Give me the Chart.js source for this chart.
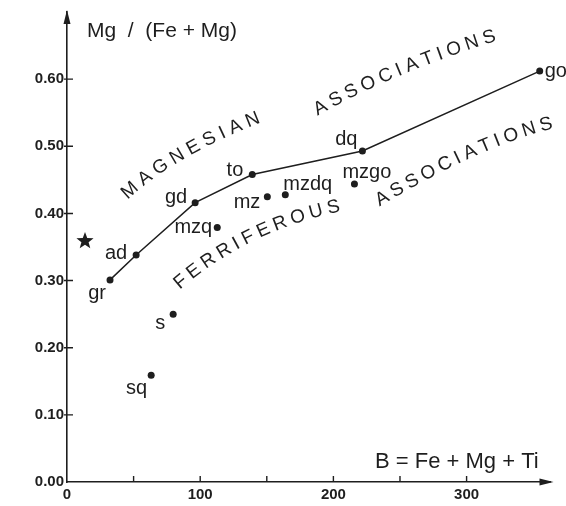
<!DOCTYPE html>
<html>
<head>
<meta charset="utf-8">
<script src="https://cdn.jsdelivr.net/npm/chart.js@4.4.0/dist/chart.umd.min.js"></script>
<style>
html, body { margin: 0; padding: 0; background: #fff; }
</style>
</head>
<body>
<canvas id="chart" width="566" height="506"></canvas>
<script>
// curve through the main associations
const trendNames = ['gr', 'ad', 'gd', 'to', 'dq', 'go'];
const trendB = [32.3, 51.9, 96.2, 139.1, 221.8, 354.9];
const trendRatio = [0.301, 0.338, 0.416, 0.458, 0.493, 0.612];

// other associations (not on the line)
const otherNames = ['mzq', 'mz', 'mzdq', 'mzgo', 's', 'sq'];
const otherB = [112.8, 150.4, 163.9, 215.8, 79.7, 63.2];
const otherRatio = [0.379, 0.425, 0.428, 0.444, 0.250, 0.159];

// star
const starB = [13.5];
const starRatio = [0.359];

const xTickLabels = ['0', '100', '200', '300'];
const yTickLabels = ['0.00', '0.10', '0.20', '0.30', '0.40', '0.50', '0.60'];

const INK = '#1e1e1e';
const FONT = '"Liberation Sans", Arial, Helvetica, sans-serif';

// where each point label sits, relative to its dot (pixels)
const labelPlace = {
  gr:   { align: 'center', dx: -13, dy: 19 },
  ad:   { align: 'right',  dx: -9,  dy: 4 },
  gd:   { align: 'right',  dx: -8,  dy: 0 },
  to:   { align: 'right',  dx: -9,  dy: 2 },
  dq:   { align: 'right',  dx: -5,  dy: -6 },
  go:   { align: 'left',   dx: 5,   dy: 6 },
  mzq:  { align: 'right',  dx: -5,  dy: 5 },
  mz:   { align: 'right',  dx: -7,  dy: 11 },
  mzdq: { align: 'left',   dx: -2,  dy: -5 },
  mzgo: { align: 'left',   dx: -12, dy: -6 },
  s:    { align: 'right',  dx: -8,  dy: 15 },
  sq:   { align: 'right',  dx: -4,  dy: 19 }
};

// curved field names: start, control, end (data units)
const fieldTexts = [
  { text: 'MAGNESIAN',    p0: [47.2, 0.434],  c: [79.4, 0.491],  p2: [139.3, 0.539] },
  { text: 'ASSOCIATIONS', p0: [190.3, 0.557], c: [242.7, 0.615], p2: [316.9, 0.662] },
  { text: 'FERRIFEROUS',  p0: [85.4, 0.298],  c: [134.1, 0.379], p2: [200.0, 0.409] },
  { text: 'ASSOCIATIONS', p0: [236.7, 0.422], c: [306.4, 0.504], p2: [359.6, 0.532] }
];

function makeStar(r) {
  const c = document.createElement('canvas');
  c.width = c.height = r * 2 + 2;
  const g = c.getContext('2d');
  g.fillStyle = INK;
  g.beginPath();
  for (let i = 0; i < 10; i++) {
    const rad = i % 2 === 0 ? r : r * 0.42;
    const a = -Math.PI / 2 + i * Math.PI / 5;
    const px = r + 1 + rad * Math.cos(a), py = r + 1 + rad * Math.sin(a);
    if (i === 0) g.moveTo(px, py); else g.lineTo(px, py);
  }
  g.closePath();
  g.fill();
  return c;
}

function drawCurved(ctx, item, xs, ys) {
  const P = p => [xs.getPixelForValue(p[0]), ys.getPixelForValue(p[1])];
  const a = P(item.p0), c = P(item.c), b = P(item.p2);
  const pts = [];
  for (let i = 0; i <= 200; i++) {
    const t = i / 200, u = 1 - t;
    pts.push([u * u * a[0] + 2 * u * t * c[0] + t * t * b[0],
              u * u * a[1] + 2 * u * t * c[1] + t * t * b[1]]);
  }
  const cum = [0];
  for (let i = 1; i < pts.length; i++) {
    cum.push(cum[i - 1] + Math.hypot(pts[i][0] - pts[i - 1][0], pts[i][1] - pts[i - 1][1]));
  }
  const L = cum[cum.length - 1];
  const letters = item.text.split('');
  const w = letters.map(ch => ctx.measureText(ch).width);
  let pairs = 0;
  for (let i = 1; i < letters.length; i++) pairs += (w[i - 1] + w[i]) / 2;
  const gap = (L - pairs) / (letters.length - 1);
  let s = 0;
  letters.forEach((ch, i) => {
    if (i > 0) s += (w[i - 1] + w[i]) / 2 + gap;
    let k = 1;
    while (k < cum.length - 1 && cum[k] < s) k++;
    const f = (s - cum[k - 1]) / ((cum[k] - cum[k - 1]) || 1);
    const x = pts[k - 1][0] + f * (pts[k][0] - pts[k - 1][0]);
    const y = pts[k - 1][1] + f * (pts[k][1] - pts[k - 1][1]);
    const ang = Math.atan2(pts[k][1] - pts[k - 1][1], pts[k][0] - pts[k - 1][0]);
    ctx.save();
    ctx.translate(x, y);
    ctx.rotate(ang);
    ctx.fillText(ch, 0, 0);
    ctx.restore();
  });
}

const decorations = {
  id: 'decorations',
  afterDraw(chart) {
    const ctx = chart.ctx;
    const xs = chart.scales.x, ys = chart.scales.y;
    const x0 = xs.getPixelForValue(0), y0 = ys.getPixelForValue(0);
    const top = chart.chartArea.top, right = chart.chartArea.right;
    ctx.save();
    ctx.fillStyle = INK;
    ctx.strokeStyle = INK;
    ctx.lineWidth = 1.4;

    // arrows at the axis ends
    ctx.beginPath();
    ctx.moveTo(x0, top - 2); ctx.lineTo(x0 - 3.5, top + 12); ctx.lineTo(x0 + 3.5, top + 12);
    ctx.closePath(); ctx.fill();
    ctx.beginPath();
    ctx.moveTo(right + 3, y0); ctx.lineTo(right - 11, y0 - 3.5); ctx.lineTo(right - 11, y0 + 3.5);
    ctx.closePath(); ctx.fill();

    // tick marks
    ctx.beginPath();
    for (let v = 50; v <= 300; v += 50) {
      const px = xs.getPixelForValue(v);
      ctx.moveTo(px, y0); ctx.lineTo(px, y0 - 6);
    }
    for (let v = 0.1; v < 0.65; v += 0.1) {
      const py = ys.getPixelForValue(v);
      ctx.moveTo(x0 - 3, py); ctx.lineTo(x0 + 6, py);
    }
    ctx.stroke();

    // axis titles
    ctx.textBaseline = 'alphabetic';
    ctx.textAlign = 'left';
    ctx.font = '21px ' + FONT;
    ctx.fillText('Mg  /  (Fe + Mg)', x0 + 20, 37);
    ctx.font = '22px ' + FONT;
    ctx.fillText('B = Fe + Mg + Ti', 375, 468);

    // point labels
    ctx.font = '20px ' + FONT;
    const sets = [[0, trendNames], [1, otherNames]];
    sets.forEach(([di, names]) => {
      chart.getDatasetMeta(di).data.forEach((el, i) => {
        const lp = labelPlace[names[i]];
        ctx.textAlign = lp.align;
        ctx.fillText(names[i], el.x + lp.dx, el.y + lp.dy);
      });
    });

    // curved field names
    ctx.font = '19px ' + FONT;
    ctx.textAlign = 'center';
    ctx.textBaseline = 'middle';
    fieldTexts.forEach(t => drawCurved(ctx, t, xs, ys));
    ctx.restore();
  }
};

const canvas = document.getElementById('chart');
new Chart(canvas, {
  type: 'scatter',
  data: {
    datasets: [
      {
        label: 'trend',
        data: trendB.map((b, i) => ({ x: b, y: trendRatio[i] })),
        showLine: true,
        borderColor: INK,
        borderWidth: 1.5,
        backgroundColor: INK,
        pointRadius: 3.5,
        pointBorderWidth: 0,
        tension: 0
      },
      {
        label: 'others',
        data: otherB.map((b, i) => ({ x: b, y: otherRatio[i] })),
        backgroundColor: INK,
        pointRadius: 3.5,
        pointBorderWidth: 0
      },
      {
        label: 'star',
        data: starB.map((b, i) => ({ x: b, y: starRatio[i] })),
        pointStyle: makeStar(9),
        pointRadius: 9
      }
    ]
  },
  options: {
    responsive: false,
    animation: false,
    layout: { padding: { top: 9.5, right: 15.5, left: 0, bottom: 0 } },
    plugins: {
      legend: { display: false },
      tooltip: { enabled: false }
    },
    scales: {
      x: {
        type: 'linear',
        min: 0,
        max: 363,
        grid: { display: false, drawTicks: false },
        border: { display: true, color: INK, width: 1.6 },
        ticks: {
          stepSize: 50,
          padding: 4,
          color: INK,
          font: { family: FONT, size: 15, weight: 'bold' },
          maxRotation: 0,
          callback: v => (v % 100 === 0 ? xTickLabels[v / 100] : '')
        },
        afterFit: s => { s.height = 24; }
      },
      y: {
        type: 'linear',
        min: 0,
        max: 0.7,
        grid: { display: false, drawTicks: false },
        border: { display: true, color: INK, width: 1.6 },
        ticks: {
          stepSize: 0.1,
          padding: 3,
          color: INK,
          font: { family: FONT, size: 15, weight: 'bold' },
          callback: v => yTickLabels[Math.round(v * 10)] || ''
        },
        afterFit: s => { s.width = 67; }
      }
    }
  },
  plugins: [decorations]
});
</script>
</body>
</html>
